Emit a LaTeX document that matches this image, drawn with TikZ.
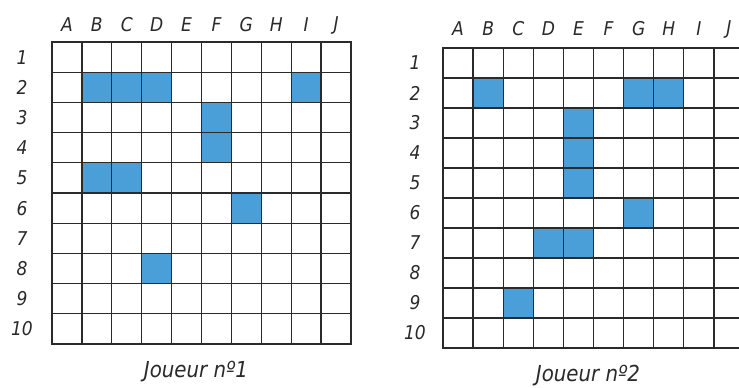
\documentclass[tikz,border=0pt]{standalone}
\usepackage{fontspec}
\setmainfont{DejaVu Sans Condensed}
\definecolor{ship}{HTML}{4A9FD8}
\definecolor{ink}{HTML}{2A2A2A}
\tikzset{
  gridline/.style={line width=1.3pt, draw=ink},
  border/.style={line width=1.7pt, draw=ink},
  lbl/.style={font=\itshape\fontsize{19}{19}\selectfont, text=ink, inner sep=0pt},
  titlelbl/.style={font=\itshape\fontsize{22}{22}\selectfont, text=ink, inner sep=0pt},
  shipcell/.style={fill=ship}
}
% #1 x0, #2 y0, #3 cell w, #4 cell h, #5 name prefix, #6 cells, #7 letter offset, #8 number offset
\newcommand\battlegrid[8]{%
  \foreach \c/\r in {#6}{%
    \fill[shipcell] ({#1+(\c-1)*#3},{#2+(\r-1)*#4}) rectangle ({#1+\c*#3},{#2+\r*#4});
  }
  \foreach \i in {1,...,9}{%
    \draw[gridline] ({#1+\i*#3},{#2}) -- ({#1+\i*#3},{#2+10*#4});
    \draw[gridline] ({#1},{#2+\i*#4}) -- ({#1+10*#3},{#2+\i*#4});
  }
  \draw[border] (#1,#2) rectangle ({#1+10*#3},{#2+10*#4});
  \foreach \L [count=\i] in {A,B,C,D,E,F,G,H,I,J}{%
    \node[lbl] (#5-col-\i) at ({#1+(\i-0.5)*#3},{#2-#7}) {\L};
  }
  \foreach \r in {1,...,10}{%
    \node[lbl] (#5-row-\r) at ({#1-#8},{#2+(\r-0.5)*#4}) {\r};
  }
}
\begin{document}
\begin{tikzpicture}[x=1pt,y=-1pt]
\useasboundingbox (0,0) rectangle (739,388);
\clip (0,0) rectangle (739,388);
\fill[white] (0,0) rectangle (739,388);
\battlegrid{52}{42}{29.9}{30.2}{L}{2/2,3/2,4/2,9/2,6/3,6/4,2/5,3/5,7/6,4/8}{17}{30}
\battlegrid{443}{48}{30.1}{30}{R}{2/2,7/2,8/2,5/3,5/4,5/5,7/6,4/7,5/7,3/9}{19}{28}
\node[titlelbl] (t1) at (196,372) {Joueur nº1};
\node[titlelbl] (t2) at (588,376) {Joueur nº2};
\end{tikzpicture}
\end{document}
